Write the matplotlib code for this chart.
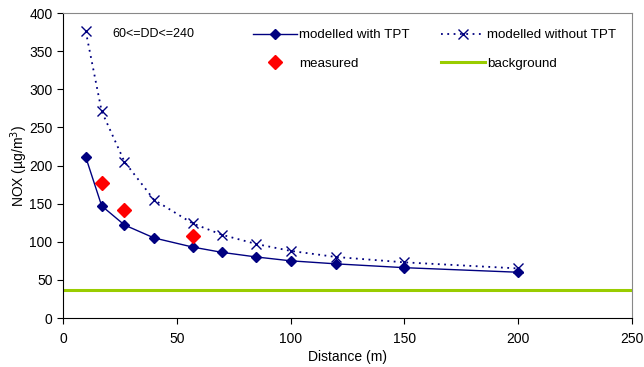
import matplotlib
matplotlib.use('Agg')
import matplotlib.pyplot as plt

plt.rcParams['font.family'] = ['Liberation Sans', 'DejaVu Sans']
plt.rcParams['font.size'] = 10

# data
distance = [10, 17, 27, 40, 57, 70, 85, 100, 120, 150, 200]
with_tpt = [211, 147, 122, 105, 93, 86, 80, 75, 71, 66, 60]
without_tpt = [376, 271, 205, 155, 124, 109, 97, 88, 80, 73, 65]
meas_dist = [17, 27, 57]
measured = [177, 142, 107]
background = 37

fig = plt.figure(figsize=(6.44, 3.67), dpi=100)
ax = fig.add_axes([63 / 644, 1 - 318 / 367, 569 / 644, 305 / 367])

navy = '#000080'
ax.axhline(background, color='#99CC00', lw=2.2, label='background', zorder=1)
ax.plot(distance, with_tpt, color=navy, lw=1, marker='D', ms=5,
        label='modelled with TPT', zorder=3)
ax.plot(distance, without_tpt, color=navy, lw=1.3, ls=(0, (1, 2.5)), marker='x',
        ms=6.5, mew=1, label='modelled without TPT', zorder=3)
ax.plot(meas_dist, measured, ls='none', marker='D', ms=7, color='#FF0000',
        label='measured', zorder=4)

ax.set_xlim(0, 250)
ax.set_ylim(0, 400)
ax.set_xticks(range(0, 251, 50))
ax.set_yticks(range(0, 401, 50))
ax.tick_params(direction='out', length=4, width=0.8, labelsize=10)
ax.tick_params(axis='x', pad=6)
for s in ['top', 'right']:
    ax.spines[s].set_color('#888888')
ax.set_xlabel('Distance (m)')
ax.xaxis.set_label_coords(0.5, -0.105)
ax.set_ylabel('NOX (µg/m$^3$)')
ax.yaxis.set_label_coords(-0.058, 0.5)

ax.text(21.5, 372, '60<=DD<=240', fontsize=9, va='center')

h, l = ax.get_legend_handles_labels()
order = [1, 3, 2, 0]
ax.legend([h[i] for i in order], [l[i] for i in order], ncol=2,
          loc='upper left', bbox_to_anchor=(253 / 644, 1 - 29 / 367),
          bbox_transform=fig.transFigure, frameon=False, borderpad=0,
          borderaxespad=0, handlelength=3.3, handletextpad=0.15,
          columnspacing=2.35, labelspacing=1.2, fontsize=9.6)

fig.savefig('out.png', dpi=100)
